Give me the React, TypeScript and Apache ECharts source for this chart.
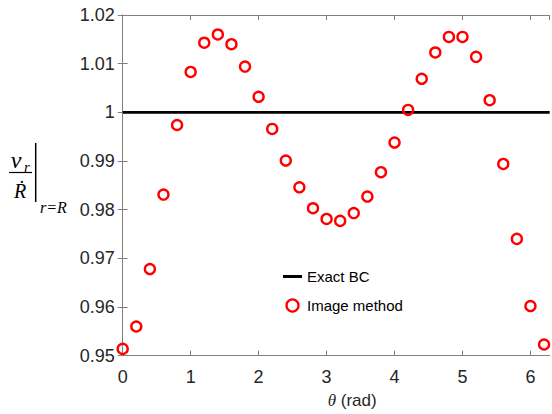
import React, { useEffect, useRef } from "react";
import * as echarts from "echarts";

const thetaValues = [0, 0.2, 0.4, 0.6, 0.8, 1.0, 1.2, 1.4, 1.6, 1.8, 2.0, 2.2, 2.4, 2.6, 2.8, 3.0, 3.2, 3.4, 3.6, 3.8, 4.0, 4.2, 4.4, 4.6, 4.8, 5.0, 5.2, 5.4, 5.6, 5.8, 6.0, 6.2];
const imageMethod = [0.9514, 0.956, 0.9678, 0.9831, 0.9974, 1.0083, 1.0143, 1.016, 1.014, 1.0094, 1.0032, 0.9966, 0.9901, 0.9846, 0.9803, 0.9781, 0.9777, 0.9793, 0.9827, 0.9877, 0.9938, 1.0005, 1.0069, 1.0123, 1.0155, 1.0155, 1.0114, 1.0025, 0.9894, 0.974, 0.9602, 0.9523];
const exactTheta = [0, 2 * Math.PI];
const exactBC = [1, 1];
const seriesNames = ["Exact BC", "Image method"];
const xTitle = ["θ", " (rad)"];

const SANS = "'Liberation Sans', Arial, sans-serif";
const SERIF = "'Liberation Serif', 'DejaVu Serif', serif";
const AXIS_COLOR = "#808080";
const TEXT_COLOR = "#262626";

export default function App() {
  const ref = useRef<HTMLDivElement>(null);
  useEffect(() => {
    if (!ref.current) return;
    const chart = echarts.init(ref.current, undefined, { renderer: "svg" });
    const xFmt = (v: number) => (Math.abs(v - Math.round(v)) < 1e-6 ? String(Math.round(v)) : "");
    const yFmt = (v: number) => String(parseFloat(v.toFixed(2)));
    const axisCommon = {
      axisLine: { show: true, lineStyle: { color: AXIS_COLOR, width: 1 } },
      axisTick: { show: true, inside: true, length: 5, lineStyle: { color: AXIS_COLOR } },
      splitLine: { show: false },
    };
    chart.setOption({
      animation: false,
      backgroundColor: "#ffffff",
      grid: { left: 122.7, top: 15, right: 2.3, bottom: 58.3, containLabel: false },
      xAxis: [
        {
          type: "value", min: 0, max: 2 * Math.PI, interval: 1, position: "bottom",
          ...axisCommon,
          axisLabel: { show: true, formatter: xFmt, showMaxLabel: false, color: TEXT_COLOR, fontFamily: SANS, fontSize: 18, margin: 12 },
        },
        {
          type: "value", min: 0, max: 2 * Math.PI, interval: 1, position: "top",
          ...axisCommon,
          axisLabel: { show: false },
        },
      ],
      yAxis: [
        {
          type: "value", min: 0.95, max: 1.02, interval: 0.01, position: "left",
          ...axisCommon,
          axisLabel: { show: true, formatter: yFmt, color: TEXT_COLOR, fontFamily: SANS, fontSize: 18, margin: 8 },
        },
        {
          type: "value", min: 0.95, max: 1.02, interval: 0.01, position: "right",
          ...axisCommon,
          axisLabel: { show: false },
        },
      ],
      legend: {
        orient: "vertical",
        left: 278,
        top: 264,
        itemWidth: 19,
        itemHeight: 12,
        itemGap: 14,
        textStyle: { fontFamily: SANS, fontSize: 15, color: "#000", padding: [0, 0, 0, 0] },
        data: [
          { name: seriesNames[0], icon: "path://M0,0 L19,0 L19,3 L0,3 Z", itemStyle: { color: "#000", borderWidth: 0 } },
          { name: seriesNames[1], icon: "circle", itemStyle: { color: "#ffffff", borderColor: "#ff0000", borderWidth: 2.3 } },
        ],
      },
      series: [
        {
          name: seriesNames[0],
          type: "line",
          data: exactTheta.map((t, i) => [t, exactBC[i]]),
          symbol: "none",
          lineStyle: { color: "#000000", width: 2.7 },
          itemStyle: { color: "#000000" },
          z: 2,
        },
        {
          name: seriesNames[1],
          type: "scatter",
          data: thetaValues.map((t, i) => [t, imageMethod[i]]),
          symbol: "circle",
          symbolSize: 10,
          clip: false,
          itemStyle: { color: "rgba(255,255,255,0)", borderColor: "#ff0000", borderWidth: 2.4, opacity: 1 },
          z: 3,
        },
      ],
      graphic: [
        { type: "text", x: 336, y: 400, style: { text: xTitle[0], font: `italic 17px ${SERIF}`, fill: TEXT_COLOR, textAlign: "right", textVerticalAlign: "middle" } },
        { type: "text", x: 336, y: 400, style: { text: xTitle[1], font: `17px ${SANS}`, fill: TEXT_COLOR, textAlign: "left", textVerticalAlign: "middle" } },
        { type: "text", x: 16, y: 160, style: { text: "v", font: `italic 24px ${SERIF}`, fill: "#000", textAlign: "center", textVerticalAlign: "middle" } },
        { type: "text", x: 27, y: 167, style: { text: "r", font: `italic 15px ${SERIF}`, fill: "#000", textAlign: "center", textVerticalAlign: "middle" } },
        { type: "line", shape: { x1: 9, y1: 172.5, x2: 32, y2: 172.5 }, style: { stroke: "#000", lineWidth: 1.2 } },
        { type: "text", x: 20, y: 191, style: { text: "Ṙ", font: `italic 20px ${SERIF}`, fill: "#000", textAlign: "center", textVerticalAlign: "middle" } },
        { type: "line", shape: { x1: 35.7, y1: 143, x2: 35.7, y2: 202 }, style: { stroke: "#000", lineWidth: 1.5 } },
        { type: "text", x: 40, y: 207, style: { text: "r=R", font: `italic 16px ${SERIF}`, fill: "#000", textAlign: "left", textVerticalAlign: "middle" } },
      ],
    });
    return () => chart.dispose();
  }, []);
  return <div ref={ref} style={{ width: 552, height: 414, position: "absolute", left: 0, top: 0 }} />;
}
